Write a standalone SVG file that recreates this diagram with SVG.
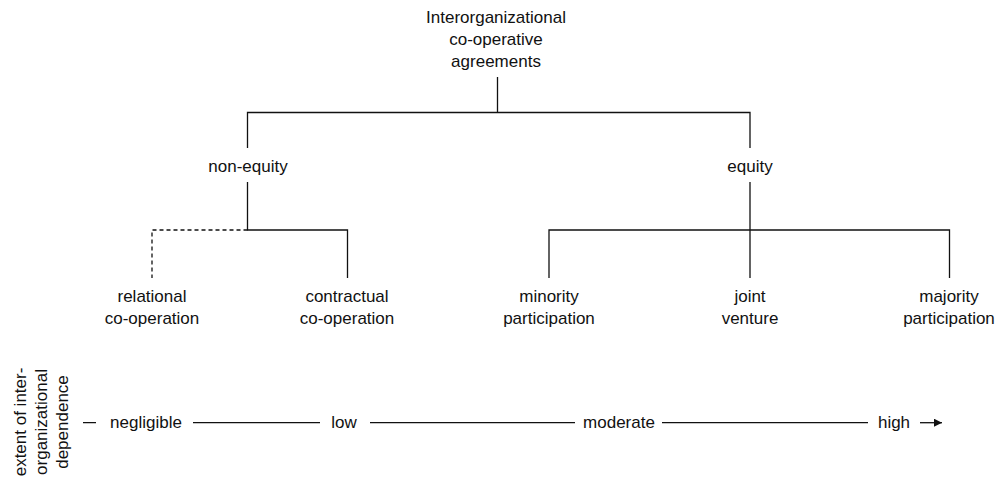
<svg xmlns="http://www.w3.org/2000/svg" width="1007" height="481" viewBox="0 0 1007 481">
<defs>
<style>
text{font-family:"Liberation Sans",Arial,sans-serif;font-size:17px;fill:#111;text-anchor:middle}
.ln{stroke:#111;stroke-width:1.3;fill:none}
.dash{stroke-dasharray:4 3}
</style>
<marker id="arr" viewBox="0 0 10 10" refX="10" refY="5" markerWidth="8" markerHeight="8" markerUnits="userSpaceOnUse" orient="auto">
<path d="M0,0 L10,5 L0,10 Z" fill="#111"/>
</marker>
</defs>
<rect width="1007" height="481" fill="#fff"/>
<g id="connectors">
<path class="ln" d="M497.5,77 V112.5 M247.5,148 V112.5 H750 V148"/>
<path class="ln" d="M247.5,182 V230 H347.5 V278"/>
<path class="ln dash" d="M247.5,230 H152 V278"/>
<path class="ln" d="M750,182 V278 M549,278 V230 H949.5 V278"/>
<path class="ln" d="M83,422.7 H96 M193,422.7 H320 M370,422.7 H575 M662,422.7 H868"/>
<path class="ln" d="M920,422.7 H942" marker-end="url(#arr)"/>
</g>
<g id="root"><text x="496" y="23">Interorganizational<tspan x="496" dy="22">co-operative</tspan><tspan x="496" dy="22">agreements</tspan></text></g>
<g id="non-equity"><text x="248" y="172">non-equity</text></g>
<g id="equity"><text x="750" y="172">equity</text></g>
<g id="relational"><text x="152" y="302">relational<tspan x="152" dy="21.5">co-operation</tspan></text></g>
<g id="contractual"><text x="347" y="302">contractual<tspan x="347" dy="21.5">co-operation</tspan></text></g>
<g id="minority"><text x="549" y="302">minority<tspan x="549" dy="21.5">participation</tspan></text></g>
<g id="joint"><text x="750" y="302">joint<tspan x="750" dy="21.5">venture</tspan></text></g>
<g id="majority"><text x="949" y="302">majority<tspan x="949" dy="21.5">participation</tspan></text></g>
<g id="axis-title"><text transform="translate(25.5,422) rotate(-90)">extent of inter-<tspan x="0" dy="21">organizational</tspan><tspan x="0" dy="21">dependence</tspan></text></g>
<g id="scale">
<text x="146" y="428">negligible</text>
<text x="344" y="428">low</text>
<text x="619" y="428">moderate</text>
<text x="894" y="428">high</text>
</g>
</svg>
